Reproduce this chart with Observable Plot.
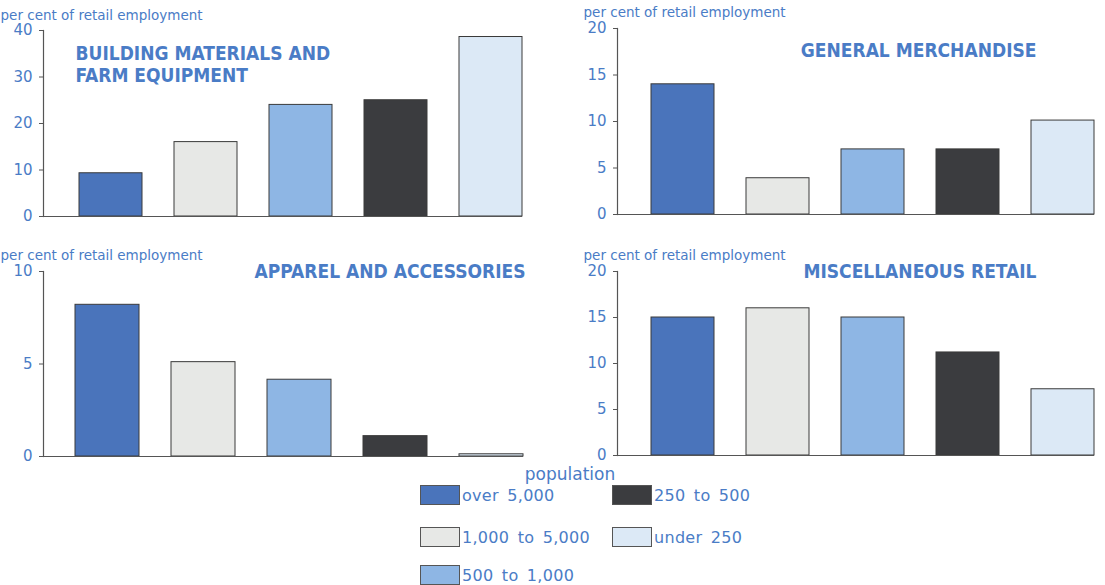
<!DOCTYPE html>
<html>
<head>
<meta charset="utf-8">
<script src="https://cdn.jsdelivr.net/npm/d3@7"></script>
<script src="https://cdn.jsdelivr.net/npm/@observablehq/plot@0.6"></script>
<style>
  html, body { margin: 0; padding: 0; background: #fff; }
  #root { position: relative; width: 1105px; height: 585px; overflow: hidden; font-family: "DejaVu Sans", sans-serif; color: #4a7cc6; }
  .panel { position: absolute; }
  .legend-title { position: absolute; left: 470px; width: 200px; text-align: center; top: 466px; font-size: 17px; line-height: 17px; color: #4a7cc6; }
  .item { position: absolute; display: flex; align-items: center; font-size: 16px; color: #4a7cc6; letter-spacing: 0.3px; word-spacing: 3px; }
  .sw { width: 40px; height: 20px; border: 1px solid #555; margin-right: 2px; box-sizing: border-box; }
</style>
</head>
<body>
<div id="root"></div>
<script>
const populations = ["over 5,000", "1,000 to 5,000", "500 to 1,000", "250 to 500", "under 250"];
const popColors = ["#4a74bb", "#e7e8e6", "#8eb6e4", "#3b3c3f", "#dce9f6"];
const buildingValues = [9.3, 16, 24, 25, 38.6];
const generalValues = [14, 3.9, 7, 7, 10.1];
const apparelValues = [8.2, 5.1, 4.15, 1.1, 0.12];
const miscValues = [15, 16, 15, 11.2, 7.2];
const yLabel = "per cent of retail employment";

const blue = "#4a7cc6";
const root = document.getElementById("root");

function panel({values, title, yMax, ticks, left, top, width, height, mL, mR, mT, mB, labelDx, labelDy, titleAnchor, tdx, tdy}) {
  const data = populations.map((p, i) => ({pop: p, value: values[i]}));
  const chart = Plot.plot({
    width, height,
    marginLeft: mL, marginRight: mR, marginTop: mT, marginBottom: mB,
    style: {background: "transparent", color: blue, fontFamily: "DejaVu Sans, sans-serif"},
    x: {domain: populations, paddingInner: 1/3, paddingOuter: 1/6, align: 1, axis: null},
    y: {domain: [0, yMax], ticks, axis: null},
    color: {domain: populations, range: popColors},
    marks: [
      Plot.barY(data, {x: "pop", y: "value", fill: "pop", stroke: "#3a3a3a", strokeWidth: 1}),
      Plot.ruleY([0], {stroke: "#555", strokeWidth: 1.2}),
      Plot.frame({anchor: "left", stroke: "#555", strokeWidth: 1.2}),
      Plot.axisY({ticks, tickSize: 4, tickPadding: 7, stroke: "#555", fill: blue, fontSize: 15, label: null, tickFormat: d => String(d)}),
      Plot.text([yLabel], {frameAnchor: "top-left", dx: labelDx, dy: labelDy, textAnchor: "start", fill: blue, fontSize: 13.5, letterSpacing: "0.6px", text: d => d, lineAnchor: "bottom"}),
      Plot.text([title], {frameAnchor: titleAnchor, dx: tdx, dy: tdy, textAnchor: titleAnchor.endsWith("left") ? "start" : "end", lineAnchor: "top", lineHeight: 1.15, fill: blue, fontSize: 19, fontWeight: "bold", fontFamily: "Liberation Sans Narrow, DejaVu Sans Condensed, sans-serif", letterSpacing: "1px", text: d => d})
    ]
  });
  chart.classList.add("panel");
  chart.style.left = left + "px";
  chart.style.top = top + "px";
  root.appendChild(chart);
}

panel({values: buildingValues, title: "BUILDING MATERIALS AND\nFARM EQUIPMENT", yMax: 40, ticks: [0, 10, 20, 30, 40],
  left: 0, top: 0, width: 552, height: 228, mL: 43, mR: 30, mT: 30, mB: 12, labelDx: -43, labelDy: -11, titleAnchor: "top-left", tdx: 32, tdy: 14});
panel({values: generalValues, title: "GENERAL MERCHANDISE", yMax: 20, ticks: [0, 5, 10, 15, 20],
  left: 552, top: 0, width: 553, height: 228, mL: 65, mR: 11, mT: 28, mB: 14, labelDx: -34, labelDy: -12, titleAnchor: "top-right", tdx: -58, tdy: 13});
panel({values: apparelValues, title: "APPAREL AND ACCESSORIES", yMax: 10, ticks: [0, 5, 10],
  left: 0, top: 240, width: 552, height: 228, mL: 43, mR: 29, mT: 31, mB: 12, labelDx: -43, labelDy: -12, titleAnchor: "top-right", tdx: 2, tdy: -9});
panel({values: miscValues, title: "MISCELLANEOUS RETAIL", yMax: 20, ticks: [0, 5, 10, 15, 20],
  left: 552, top: 240, width: 553, height: 228, mL: 65, mR: 11, mT: 31, mB: 13, labelDx: -34, labelDy: -12, titleAnchor: "top-right", tdx: -58, tdy: -9});

// legend
const lt = document.createElement("div");
lt.className = "legend-title";
lt.textContent = "population";
root.appendChild(lt);
const legendPos = [[420, 485], [420, 527], [420, 565], [612, 485], [612, 527]];
populations.forEach((p, i) => {
  const it = document.createElement("div");
  it.className = "item";
  it.style.left = legendPos[i][0] + "px";
  it.style.top = legendPos[i][1] + "px";
  const sw = document.createElement("div");
  sw.className = "sw";
  sw.style.background = popColors[i];
  it.appendChild(sw);
  const t = document.createElement("span");
  t.textContent = p;
  it.appendChild(t);
  root.appendChild(it);
});
</script>
</body>
</html>
